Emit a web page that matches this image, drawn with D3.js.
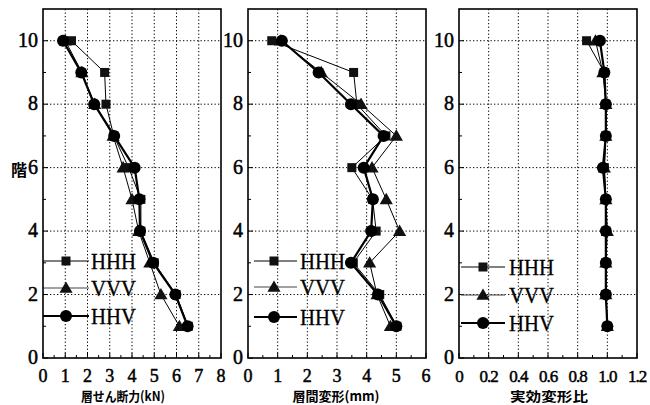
<!DOCTYPE html>
<html>
<head>
<meta charset="utf-8">
<script src="https://cdn.jsdelivr.net/npm/d3@7/dist/d3.min.js"></script>
<style>
  body { margin: 0; background: #fff; }
  svg { display: block; }
</style>
</head>
<body>
<div id="chart"></div>
<script>
// Story profiles for three wall arrangements
const floors = [1, 2, 3, 4, 5, 6, 7, 8, 9, 10];
const seriesNames = ["HHH", "VVV", "HHV"];

// Story shear force (kN)
const shearHHH = [6.53, 5.98, 5.0, 4.4, 4.4, 3.85, 3.18, 2.83, 2.77, 1.28];
const shearVVV = [6.13, 5.3, 4.8, 4.3, 4.0, 3.6, 3.15, 2.32, 1.75, 1.0];
const shearHHV = [6.5, 5.95, 4.95, 4.36, 4.33, 4.12, 3.2, 2.3, 1.72, 0.9];

// Inter-story drift (mm)
const driftHHH = [5.02, 4.44, 3.55, 4.32, 4.2, 3.5, 4.65, 3.67, 3.56, 0.8];
const driftVVV = [4.8, 4.35, 4.1, 5.11, 4.66, 4.18, 5.0, 3.81, 2.47, 1.1];
const driftHHV = [5.0, 4.38, 3.47, 4.15, 4.21, 3.9, 4.57, 3.47, 2.38, 1.14];

// Effective deformation ratio
const ratioHHH = [1.0, 0.99, 0.99, 0.99, 0.99, 0.98, 0.99, 0.99, 0.98, 0.86];
const ratioVVV = [1.0, 0.99, 0.99, 1.0, 0.99, 0.98, 0.99, 0.99, 0.97, 0.92];
const ratioHHV = [1.0, 0.99, 0.99, 0.99, 0.99, 0.97, 0.99, 0.99, 0.98, 0.95];

const xTicks1 = [0, 1, 2, 3, 4, 5, 6, 7, 8];
const xTicks2 = [0, 1, 2, 3, 4, 5, 6];
const xTicks3 = [0, 0.2, 0.4, 0.6, 0.8, 1.0, 1.2];
const yTicks = [0, 2, 4, 6, 8, 10];

const width = 650, height = 405;
const plotTop = 9, plotBottom = 358;
const serif = "'Liberation Serif', 'DejaVu Serif', serif";

const svg = d3.select("#chart").append("svg")
    .attr("width", width).attr("height", height);

const y = d3.scaleLinear().domain([0, 11]).range([plotBottom, plotTop]);

const panels = [
    { left: 43, right: 221, max: 8, ticks: xTicks1, minor: 0.5, fmt: d => d,
      data: [shearHHH, shearVVV, shearHHV], title: "層せん断力(kN)", titleX: 123, titleLen: 84,
      legX: 43, legEnd: 89, legMark: 66, legText: 91, legY: [261, 288, 316] },
    { left: 248, right: 426, max: 6, ticks: xTicks2, minor: 0.5, fmt: d => d,
      data: [driftHHH, driftVVV, driftHHV], title: "層間変形(mm)", titleX: 336, titleLen: 87,
      legX: 254, legEnd: 297, legMark: 274, legText: 300, legY: [261, 287, 317] },
    { left: 459, right: 637, max: 1.2, ticks: xTicks3, minor: 0.1, fmt: d => d === 0 ? "0" : d3.format(".1f")(d),
      data: [ratioHHH, ratioVVV, ratioHHV], title: "実効変形比", titleX: 549, titleLen: 78,
      legX: 461, legEnd: 505, legMark: 483, legText: 509, legY: [267, 295, 323] }
];

const lineW = [1, 1, 2.2];

function marker(g, kind, cx, cy) {
    if (kind === 0) {
        g.append("rect").attr("x", cx - 4.5).attr("y", cy - 4.5)
            .attr("width", 9).attr("height", 9).attr("fill", "#111");
    } else if (kind === 1) {
        const sym = d3.symbol().type(d3.symbolTriangle).size(75);
        g.append("path").attr("d", sym()).attr("transform", `translate(${cx},${cy + 1})`)
            .attr("fill", "#111");
    } else {
        g.append("circle").attr("cx", cx).attr("cy", cy).attr("r", 6).attr("fill", "#000");
    }
}

panels.forEach(p => {
    const x = d3.scaleLinear().domain([0, p.max]).range([p.left, p.right]);
    const g = svg.append("g");

    // grid
    p.ticks.slice(1, -1).forEach(t => {
        g.append("line").attr("x1", x(t)).attr("x2", x(t)).attr("y1", plotTop).attr("y2", plotBottom)
            .attr("stroke", "#000").attr("stroke-width", 1).attr("stroke-dasharray", "1.3,2.2");
    });
    yTicks.slice(1).forEach(t => {
        g.append("line").attr("x1", p.left).attr("x2", p.right).attr("y1", y(t)).attr("y2", y(t))
            .attr("stroke", "#000").attr("stroke-width", 1).attr("stroke-dasharray", "1.3,2.2");
    });

    // inward ticks
    d3.range(0, p.max + 1e-9, p.minor).forEach((t, i) => {
        const len = (i % 2 === 0) ? 5 : 3;
        g.append("line").attr("x1", x(t)).attr("x2", x(t)).attr("y1", plotBottom).attr("y2", plotBottom - len)
            .attr("stroke", "#000").attr("stroke-width", 1);
    });
    d3.range(0, 11, 1).forEach(t => {
        const len = (t % 2 === 0) ? 5 : 3;
        g.append("line").attr("x1", p.left).attr("x2", p.left + len).attr("y1", y(t)).attr("y2", y(t))
            .attr("stroke", "#000").attr("stroke-width", 1);
    });

    // tick labels
    const narrow = p.max < 2;
    p.ticks.forEach(t => {
        g.append("text").attr("x", x(t)).attr("y", 381.5)
            .attr("text-anchor", "middle")
            .style("font-family", serif)
            .style("font-size", narrow ? "17px" : "18px")
            .style("letter-spacing", narrow ? "-1px" : "0px")
            .attr("fill", "#000")
            .attr("stroke", "#000").attr("stroke-width", 0.5)
            .text(p.fmt(t));
    });
    yTicks.forEach(t => {
        g.append("text").attr("x", p.left - 5).attr("y", y(t) + 6)
            .attr("text-anchor", "end")
            .style("font-family", serif)
            .style("font-size", "20px").attr("fill", "#000")
            .attr("stroke", "#000").attr("stroke-width", 0.5)
            .text(t);
    });

    // series
    const line = d3.line().x(d => x(d[0])).y(d => y(d[1]));
    p.data.forEach((vals, k) => {
        const pts = vals.map((v, i) => [v, floors[i]]);
        g.append("path").datum(pts).attr("d", line)
            .attr("fill", "none").attr("stroke", "#000").attr("stroke-width", lineW[k]);
        pts.forEach(pt => marker(g, k, x(pt[0]), y(pt[1])));
    });

    // legend
    seriesNames.forEach((name, k) => {
        const ly = p.legY[k];
        g.append("line").attr("x1", p.legX).attr("x2", p.legEnd).attr("y1", ly).attr("y2", ly)
            .attr("stroke", k === 1 ? "#444" : "#000").attr("stroke-width", lineW[k]);
        marker(g, k, p.legMark, ly);
        g.append("text").attr("x", p.legText).attr("y", ly + 8)
            .style("font-family", serif)
            .style("font-size", "23px").attr("fill", "#000")
            .attr("stroke", "#000").attr("stroke-width", 0.3)
            .attr("textLength", 45).attr("lengthAdjust", "spacingAndGlyphs")
            .text(name);
    });

    // frame
    g.append("rect").attr("x", p.left).attr("y", plotTop)
        .attr("width", p.right - p.left).attr("height", plotBottom - plotTop)
        .attr("fill", "none").attr("stroke", "#000").attr("stroke-width", 1.6);

    // axis title
    g.append("text").attr("x", p.titleX).attr("y", 400.5)
        .attr("text-anchor", "middle")
        .style("font-family", "'Noto Sans CJK JP', sans-serif")
        .style("font-size", "13px").style("font-weight", "bold")
        .attr("textLength", p.titleLen).attr("lengthAdjust", "spacingAndGlyphs")
        .text(p.title);
});

// y axis title
svg.append("text").attr("x", 19).attr("y", 176)
    .attr("text-anchor", "middle")
    .style("font-family", "'Noto Sans CJK JP', sans-serif")
    .style("font-size", "16px").style("font-weight", "bold")
    .text("階");
</script>
</body>
</html>
